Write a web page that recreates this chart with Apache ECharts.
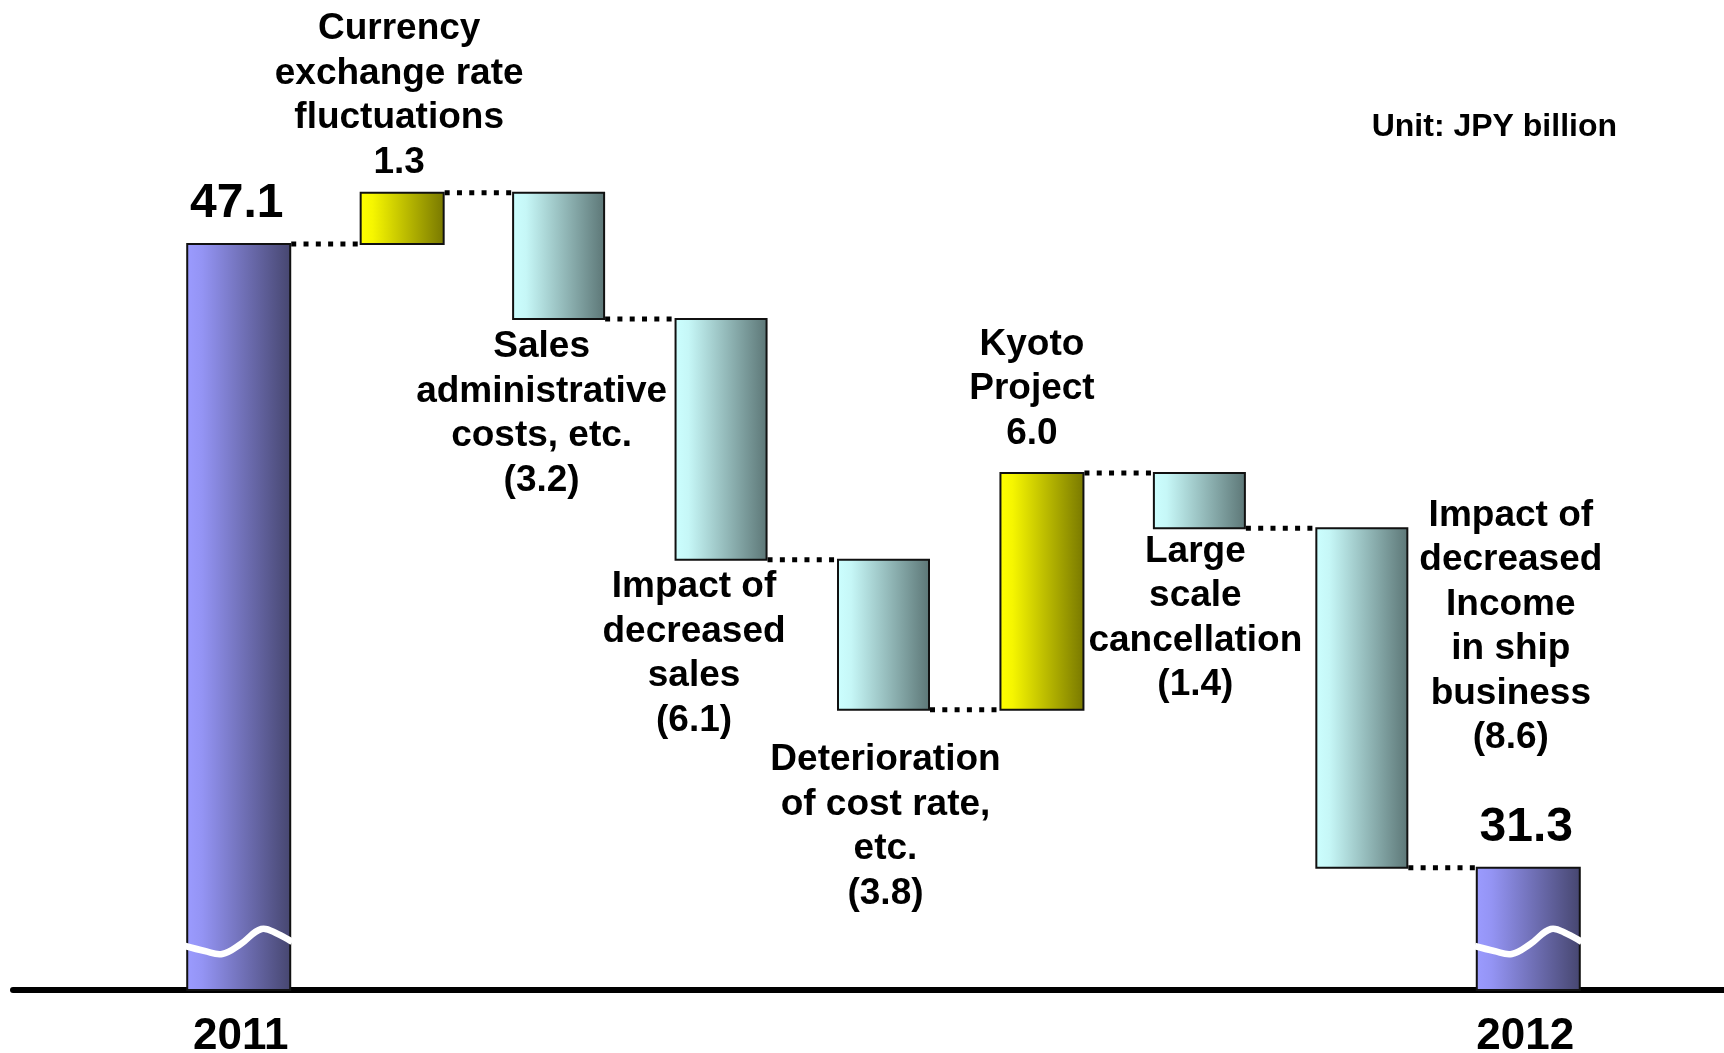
<!DOCTYPE html>
<html><head><meta charset="utf-8">
<script src="https://cdn.jsdelivr.net/npm/echarts@6/dist/echarts.min.js"></script>
<style>html,body{margin:0;padding:0;background:#fff}#c{width:1724px;height:1053px}</style>
</head><body><div id="c"></div>
<script>
// ---- data ----
const categories = ['2011', 'Currency\nexchange rate\nfluctuations', 'Sales\nadministrative\ncosts, etc.', 'Impact of\ndecreased\nsales', 'Deterioration\nof cost rate,\netc.', 'Kyoto\nProject', 'Large\nscale\ncancellation', 'Impact of\ndecreased\nIncome\nin ship\nbusiness', '2012'];
const startTotal = 47.1;
const changes = [1.3, -3.2, -6.1, -3.8, 6.0, -1.4, -8.6];
const endTotal = 31.3;
const yearLabels = ['2011', '2012'];
const unitText = 'Unit: JPY billion';

// ---- layout / style ----
const Y_MIN = 28.2, Y_MAX = 53.28;
const FONT = '"Liberation Sans", Arial, sans-serif';
const BAR_W = { total: 103, pos: 83, neg: 91 };
const barNudge = [1, 3, -2, -1, 0, -3, -7, -6, -1];
const labelLayout = [
  { ref: 'top', va: 'bottom', dx: -2, dy: -12, size: 48, lh: 56 },
  { ref: 'top', va: 'bottom', dx: -3, dy: -8 },
  { ref: 'bottom', va: 'top', dx: -17, dy: 6 },
  { ref: 'bottom', va: 'top', dx: -27, dy: 5 },
  { ref: 'bottom', va: 'top', dx: 2, dy: 28 },
  { ref: 'top', va: 'bottom', dx: -10, dy: -17 },
  { ref: 'bottom', va: 'top', dx: -4, dy: 1 },
  { ref: 'top', va: 'top', dx: 149, dy: -35 },
  { ref: 'top', va: 'bottom', dx: -2, dy: -12, size: 48, lh: 56 }
];
const G = echarts.graphic;
const fills = {
  total: () => new G.LinearGradient(0, 0, 1, 0, [{ offset: 0, color: '#9b9bff' }, { offset: 0.15, color: '#9494f4' }, { offset: 1, color: '#46466f' }]),
  pos: () => new G.LinearGradient(0, 0, 1, 0, [{ offset: 0, color: '#ffff00' }, { offset: 0.15, color: '#f6f600' }, { offset: 1, color: '#787800' }]),
  neg: () => new G.LinearGradient(0, 0, 1, 0, [{ offset: 0, color: '#ccffff' }, { offset: 0.15, color: '#c6f7f7' }, { offset: 1, color: '#5c7676' }])
};

// ---- build waterfall ----
const fmt = v => v > 0 ? v.toFixed(1) : '(' + Math.abs(v).toFixed(1) + ')';
const bars = [];
let level = startTotal;
bars.push({ kind: 'total', low: null, high: startTotal, end: startTotal, label: startTotal.toFixed(1) });
changes.forEach((c, k) => {
  const nl = level + c;
  bars.push({ kind: c > 0 ? 'pos' : 'neg', low: Math.min(level, nl), high: Math.max(level, nl), end: nl,
    label: categories[k + 1] + '\n' + fmt(c) });
  level = nl;
});
bars.push({ kind: 'total', low: null, high: endTotal, end: endTotal, label: endTotal.toFixed(1) });
const seriesData = bars.map((b, i) => [i, b.low === null ? Y_MIN : b.low, b.high]);

function renderItem(params, api) {
  const i = params.dataIndex;
  const b = bars[i];
  const band = api.size([1, 0])[0];
  const w = BAR_W[b.kind];
  const pTop = api.coord([i, api.value(2)]);
  const pLow = api.coord([i, api.value(1)]);
  const cx = pTop[0] + barNudge[i], x0 = cx - w / 2;
  const children = [];
  children.push({ type: 'rect', shape: { x: x0, y: pTop[1], width: w, height: pLow[1] - pTop[1] },
    style: { fill: fills[b.kind](), stroke: '#111', lineWidth: 2 } });
  if (b.kind === 'total') {
    const yb = pLow[1];
    const pts = [[-2, -44], [0.17, -39], [0.34, -36], [0.52, -46], [0.72, -61], [0.88, -56], [1, -48]]
      .map((p, k) => [k === 0 ? x0 - 2 : (k === 6 ? x0 + w + 2 : x0 + p[0] * w), yb + p[1]]);
    children.push({ type: 'polyline', shape: { points: pts, smooth: 0.4 },
      style: { stroke: '#fff', lineWidth: 6.5, fill: null } });
  }
  if (i < bars.length - 1) {
    const nb = bars[i + 1];
    const yl = api.coord([i, b.end])[1];
    const nx = pTop[0] + band + barNudge[i + 1] - BAR_W[nb.kind] / 2;
    children.push({ type: 'line', shape: { x1: x0 + w + 1, y1: yl, x2: nx, y2: yl },
      style: { stroke: '#000', lineWidth: 5, lineDash: [5, 7.3] } });
  }
  const L = labelLayout[i];
  const refY = L.ref === 'top' ? pTop[1] : pLow[1];
  children.push({ type: 'text', x: cx + L.dx, y: refY + L.dy,
    style: { text: b.label, fill: '#000', fontFamily: FONT, fontWeight: 'bold', fontSize: L.size || 37,
      lineHeight: L.lh || 44.5, align: 'center', verticalAlign: L.va } });
  return { type: 'group', children };
}

const yearStyle = { fontFamily: FONT, fontWeight: 'bold', fontSize: 44, lineHeight: 44, color: '#000' };
const chart = echarts.init(document.getElementById('c'), null, { renderer: 'canvas' });
chart.setOption({
  backgroundColor: '#fff',
  animation: false,
  title: { text: unitText, right: 107, top: 111, padding: 0,
    textStyle: { fontFamily: FONT, fontWeight: 'bold', fontSize: 32, lineHeight: 33, color: '#000' } },
  grid: [
    { left: 157, right: 114, top: 0, bottom: 63, containLabel: false, outerBoundsMode: 'none' },
    { left: 13, right: 0, top: 0, bottom: 63, containLabel: false, outerBoundsMode: 'none' }
  ],
  xAxis: [
    { type: 'category', gridIndex: 0, data: categories,
      axisLine: { show: false }, axisTick: { show: false },
      axisLabel: { interval: (idx, v) => yearLabels.indexOf(v) >= 0, margin: 25,
        formatter: (v, idx) => idx === 0 ? '{a|' + v + '}' : '{b|' + v + '}',
        rich: { a: Object.assign({ padding: [0, 0, 0, 6] }, yearStyle), b: Object.assign({ padding: [0, 8, 0, 0] }, yearStyle) },
        ...yearStyle } },
    { type: 'value', gridIndex: 1, min: 0, max: 1,
      axisLine: { show: true, onZero: false, lineStyle: { color: '#000', width: 6 } },
      axisTick: { show: false }, axisLabel: { show: false }, splitLine: { show: false } }
  ],
  yAxis: [
    { type: 'value', gridIndex: 0, min: Y_MIN, max: Y_MAX, show: false, splitLine: { show: false } },
    { type: 'value', gridIndex: 1, min: 0, max: 1, show: false, splitLine: { show: false } }
  ],
  series: [{
    type: 'custom', xAxisIndex: 0, yAxisIndex: 0,
    renderItem, encode: { x: 0, y: [1, 2] }, data: seriesData, z: 3
  }]
});
</script>
</body></html>
